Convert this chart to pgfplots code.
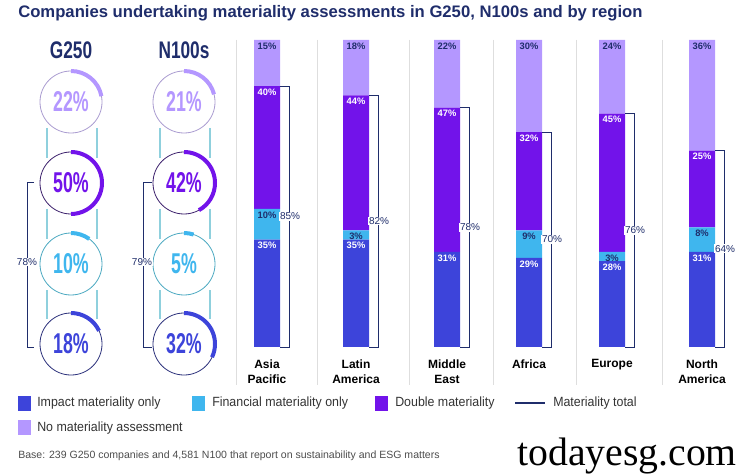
\documentclass[border=0pt]{standalone}
\usepackage{pgfplots}
\pgfplotsset{compat=1.18}
\usepackage{pgfplotstable}
\usepackage{fontspec}
\setmainfont{Liberation Sans}
\newfontfamily\condfont[FakeStretch=0.62]{Liberation Sans}
\newfontfamily\headfont[FakeStretch=0.72]{Liberation Sans}
\newfontfamily\titlefont{Liberation Sans}
\newfontfamily\legfont[FakeStretch=0.93]{Liberation Sans}
\newfontfamily\wmfont{Liberation Serif}
\definecolor{impact}{HTML}{3D44DA}
\definecolor{fin}{HTML}{3FB6EE}
\definecolor{dbl}{HTML}{7213EA}
\definecolor{nomat}{HTML}{B497FF}
\definecolor{navy}{HTML}{1F2D6B}
\definecolor{sepc}{HTML}{DEDEDE}
\definecolor{tealc}{HTML}{8FD0DD}
\definecolor{finout}{HTML}{4AA8C0}
\definecolor{nomout}{HTML}{A99BD0}
\definecolor{dblout}{HTML}{3B1F6B}
\definecolor{impout}{HTML}{2A2F7A}

\pgfplotstableread{
x impact fin dbl none total
267 35 10 40 15 85
356 35 3 44 18 82
447 31 0 47 22 78
529 29 9 32 30 70
612 28 3 45 24 76
702 31 8 25 36 64
}\regions

\pgfplotsset{base/.style={at={(0,0)}, anchor=south west, scale only axis,
  width=558.75pt, height=356.25pt, xmin=0, xmax=745, ymin=-41.6938, ymax=113.0293,
  hide axis, clip=false}}

\newcommand\donut[6]{%
  \draw[#5, line width=0.6pt] (#1,475-#2) circle[radius=31];
  \draw[#4, line width=3pt] ([shift={(90:31)}]#1,475-#2) arc[start angle=90, delta angle=-3.6*#3, radius=31];
  \node[text=#6, font=\condfont\bfseries\fontsize{21.5}{21.5}\selectfont] at (#1,475-#2) {#3\%};
}
\tikzset{seglab/.style={anchor=north, font=\bfseries\fontsize{7}{7}\selectfont, inner sep=1pt, yshift=-0.8pt},
  brlab/.style={font=\fontsize{7.5}{7.5}\selectfont, text=navy, fill=white, inner sep=0.6pt}}

\begin{document}
\begin{tikzpicture}[x=0.75pt,y=0.75pt]
\useasboundingbox (0,0) rectangle (745,475);
% title
\node[anchor=west, text=navy, font=\titlefont\bfseries\fontsize{12.5}{12.5}\selectfont, inner sep=0] at (18,462) {Companies undertaking materiality assessments in G250, N100s and by region};
% separators
\foreach \s in {236,317,409,493,576,662} {\draw[sepc, line width=0.6pt] (\s,435) -- (\s,90);}
% bars
\begin{axis}[base, ybar stacked, bar width=19.5pt]
\addplot[fill=impact, draw=none] table[x=x,y=impact]{\regions};
\addplot[fill=fin, draw=none] table[x=x,y=fin]{\regions};
\addplot[fill=dbl, draw=none] table[x=x,y=dbl]{\regions};
\addplot[fill=nomat, draw=none] table[x=x,y=none]{\regions};
\end{axis}
\begin{axis}[base]
% brackets for materiality total
\addplot[navy, line width=0.75pt, mark=none] coordinates {(280,85)(289,85)(289,0)(280,0)};
\addplot[navy, line width=0.75pt, mark=none] coordinates {(369,82)(378,82)(378,0)(369,0)};
\addplot[navy, line width=0.75pt, mark=none] coordinates {(460,78)(469,78)(469,0)(460,0)};
\addplot[navy, line width=0.75pt, mark=none] coordinates {(542,70)(551,70)(551,0)(542,0)};
\addplot[navy, line width=0.75pt, mark=none] coordinates {(625,76)(634,76)(634,0)(625,0)};
\addplot[navy, line width=0.75pt, mark=none] coordinates {(715,64)(724,64)(724,0)(715,0)};
\node[brlab] at (axis cs:290,42.5) {85\%};
\node[brlab] at (axis cs:379,41) {82\%};
\node[brlab] at (axis cs:470,39) {78\%};
\node[brlab] at (axis cs:552,35) {70\%};
\node[brlab] at (axis cs:635,38) {76\%};
\node[brlab] at (axis cs:725,32) {64\%};
% segment labels
\node[seglab, text=white] at (axis cs:267,35) {35\%};
\node[seglab, text=navy] at (axis cs:267,45) {10\%};
\node[seglab, text=white] at (axis cs:267,85) {40\%};
\node[seglab, text=navy] at (axis cs:267,100) {15\%};
\node[seglab, text=white] at (axis cs:356,35) {35\%};
\node[seglab, text=navy] at (axis cs:356,38) {3\%};
\node[seglab, text=white] at (axis cs:356,82) {44\%};
\node[seglab, text=navy] at (axis cs:356,100) {18\%};
\node[seglab, text=white] at (axis cs:447,31) {31\%};
\node[seglab, text=white] at (axis cs:447,78) {47\%};
\node[seglab, text=navy] at (axis cs:447,100) {22\%};
\node[seglab, text=white] at (axis cs:529,29) {29\%};
\node[seglab, text=navy] at (axis cs:529,38) {9\%};
\node[seglab, text=white] at (axis cs:529,70) {32\%};
\node[seglab, text=navy] at (axis cs:529,100) {30\%};
\node[seglab, text=white] at (axis cs:612,28) {28\%};
\node[seglab, text=navy] at (axis cs:612,31) {3\%};
\node[seglab, text=white] at (axis cs:612,76) {45\%};
\node[seglab, text=navy] at (axis cs:612,100) {24\%};
\node[seglab, text=white] at (axis cs:702,31) {31\%};
\node[seglab, text=navy] at (axis cs:702,39) {8\%};
\node[seglab, text=white] at (axis cs:702,64) {25\%};
\node[seglab, text=navy] at (axis cs:702,100) {36\%};
% category labels
\node[anchor=north, align=center, font=\bfseries\fontsize{9}{11.25}\selectfont] at (axis cs:267,-2.6) {Asia\\Pacific};
\node[anchor=north, align=center, font=\bfseries\fontsize{9}{11.25}\selectfont] at (axis cs:356,-2.6) {Latin\\America};
\node[anchor=north, align=center, font=\bfseries\fontsize{9}{11.25}\selectfont] at (axis cs:447,-2.6) {Middle\\East};
\node[anchor=north, align=center, font=\bfseries\fontsize{9}{11.25}\selectfont] at (axis cs:529,-2.6) {Africa};
\node[anchor=north, align=center, font=\bfseries\fontsize{9}{11.25}\selectfont] at (axis cs:612,-2.6) {Europe};
\node[anchor=north, align=center, font=\bfseries\fontsize{9}{11.25}\selectfont] at (axis cs:702,-2.6) {North\\America};
\end{axis}
% donut panel
\node[text=navy, font=\headfont\bfseries\fontsize{18}{18}\selectfont] at (71,425) {G250};
\node[text=navy, font=\headfont\bfseries\fontsize{18}{18}\selectfont] at (184,425) {N100s};
% connector lines
\foreach \cx in {71,184} {
  \foreach \ya/\yb in {128/158,209/239,290/319} {
    \draw[tealc, line width=0.8pt] (\cx-24,475-\ya) -- (\cx-24,475-\yb);
    \draw[tealc, line width=0.8pt] (\cx+26,475-\ya) -- (\cx+26,475-\yb);
  }
}
\donut{71}{102}{22}{nomat}{nomout}{nomat}
\donut{71}{183}{50}{dbl}{dblout}{dbl}
\donut{71}{264}{10}{fin}{finout}{fin}
\donut{71}{344}{18}{impact}{impout}{impact}
\donut{184}{102}{21}{nomat}{nomout}{nomat}
\donut{184}{183}{42}{dbl}{dblout}{dbl}
\donut{184}{264}{5}{fin}{finout}{fin}
\donut{184}{344}{32}{impact}{impout}{impact}
% left brackets
\draw[navy, line width=0.75pt] (34,475-183) -- (27,475-183) -- (27,475-347) -- (34,475-347);
\node[brlab] at (27,475-262) {78\%};
\draw[navy, line width=0.75pt] (152,475-183) -- (143,475-183) -- (143,475-347) -- (152,475-347);
\node[brlab] at (142,475-262) {79\%};
% legend
\tikzset{legt/.style={anchor=west, font=\legfont\fontsize{10}{10}\selectfont, text=black!80, inner sep=0}}
\fill[impact] (18,79) rectangle (31,64); \node[legt] at (37,72) {Impact materiality only};
\fill[fin] (192,79) rectangle (205,64); \node[legt] at (212,72) {Financial materiality only};
\fill[dbl] (375,79) rectangle (388,64); \node[legt] at (395,72) {Double materiality};
\draw[navy, line width=0.9pt] (515,72) -- (545,72); \node[legt] at (553,72) {Materiality total};
\fill[nomat] (18,55) rectangle (31,40); \node[legt] at (37,47) {No materiality assessment};
\node[anchor=west, font=\titlefont\fontsize{7.9}{8}\selectfont, text=black!70, inner sep=0] at (18,19) {Base: 239 G250 companies and 4,581 N100 that report on sustainability and ESG matters};
\node[anchor=base west, font=\wmfont\fontsize{29.8}{29.8}\selectfont, inner sep=0] at (517,10) {todayesg.com};
\end{tikzpicture}
\end{document}
